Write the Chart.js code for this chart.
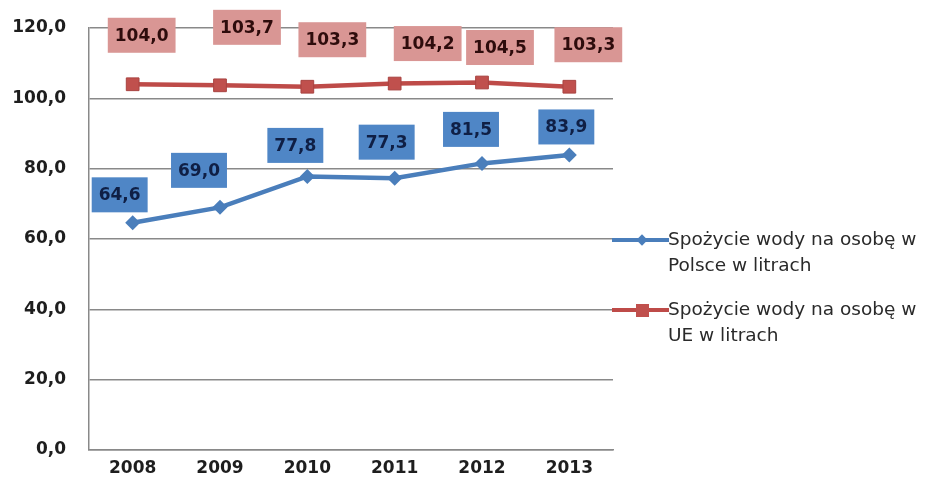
<!DOCTYPE html>
<html>
<head>
<meta charset="utf-8">
<script src="https://cdn.jsdelivr.net/npm/chart.js@4"></script>
<style>
    body { margin: 0; background: #fff; }
    #wrap { position: relative; width: 927px; height: 490px; }
    #legend { position: absolute; left: 612px; top: 226px; font-family: "DejaVu Sans", sans-serif; font-size: 18.5px; color: #2a2a2a; white-space: nowrap; }
    .item { position: relative; padding-left: 56px; line-height: 26px; margin-bottom: 18px; }
    .sample { position: absolute; left: 0; top: 12px; width: 57px; height: 4px; }
    .mark { position: absolute; }
</style>
</head>
<body>
<div id="wrap">
    <canvas id="waterChart" width="927" height="490"></canvas>
    <div id="legend"></div>
</div>
<script>
var years = ["2008", "2009", "2010", "2011", "2012", "2013"];
var polandValues = [64.6, 69.0, 77.8, 77.3, 81.5, 83.9];
var euValues = [104.0, 103.7, 103.3, 104.2, 104.5, 103.3];
var seriesNames = ["Spożycie wody na osobę w Polsce w litrach", "Spożycie wody na osobę w UE w litrach"];
var legendLines = [["Spożycie wody na osobę w", "Polsce w litrach"], ["Spożycie wody na osobę w", "UE w litrach"]];

// where the value boxes sit relative to their point (px)
var labelShift = [
    [[-13, -28], [-21, -37], [-12, -31], [-8, -36], [-11, -34], [-3, -28]],
    [[9, -49], [27, -58], [25, -47], [33, -40], [18, -35], [19, -42]]
];
var boxFill = ["#4f86c6", "#d99694"];
var boxText = ["#0f1f45", "#2e0c0c"];
var fontStack = "'DejaVu Sans', sans-serif";

function fmt(v) {
    return v.toFixed(1).replace(".", ",");
}

var valueBoxes = {
    id: "valueBoxes",
    afterDatasetsDraw: function(chart) {
        var ctx = chart.ctx;
        ctx.save();
        ctx.font = "bold 17px " + fontStack;
        ctx.textAlign = "center";
        ctx.textBaseline = "middle";
        chart.data.datasets.forEach(function(ds, di) {
            var meta = chart.getDatasetMeta(di);
            meta.data.forEach(function(pt, i) {
                var txt = fmt(ds.data[i]);
                var cx = pt.x + labelShift[di][i][0];
                var cy = pt.y + labelShift[di][i][1];
                var w = ctx.measureText(txt).width + 14;
                var h = 35;
                ctx.fillStyle = boxFill[di];
                ctx.fillRect(cx - w / 2, cy - h / 2, w, h);
                ctx.fillStyle = boxText[di];
                ctx.fillText(txt, cx, cy + 1);
            });
        });
        ctx.restore();
    }
};

var ctx = document.getElementById("waterChart").getContext("2d");
var chartInstance = new Chart(ctx, {
    type: "line",
    data: {
        labels: years,
        datasets: [
            {
                label: seriesNames[0],
                data: polandValues,
                borderColor: "#4a7ebb",
                backgroundColor: "#4a7ebb",
                borderWidth: 4.5,
                pointStyle: "rectRot",
                pointRadius: 7.5,
                pointBorderWidth: 0,
                tension: 0
            },
            {
                label: seriesNames[1],
                data: euValues,
                borderColor: "#be4b48",
                backgroundColor: "#c0504d",
                borderWidth: 4.5,
                pointStyle: "rect",
                pointRadius: 9,
                pointBorderWidth: 1,
                pointBorderColor: "#a84340",
                tension: 0
            }
        ]
    },
    options: {
        responsive: false,
        animation: false,
        layout: { padding: { top: 28, right: 314, left: 0, bottom: 0 } },
        plugins: {
            legend: { display: false },
            tooltip: { enabled: false }
        },
        scales: {
            x: {
                offset: true,
                grid: { display: false, drawTicks: false },
                border: { display: true, color: "#898989", width: 1.5 },
                ticks: {
                    color: "#1e1e1e",
                    padding: 8,
                    font: { family: fontStack, size: 17, weight: "bold" }
                },
                afterFit: function(scale) { scale.height = 40; }
            },
            y: {
                min: 0,
                max: 120,
                ticks: {
                    stepSize: 20,
                    color: "#1e1e1e",
                    padding: 23,
                    font: { family: fontStack, size: 17, weight: "bold" },
                    callback: function(v) { return fmt(v); }
                },
                grid: { color: "#898989", lineWidth: 1.4, drawTicks: false },
                border: { display: true, color: "#898989", width: 1.5 },
                afterFit: function(scale) {
                    scale.width = 89;
                    scale.paddingTop = 0;
                    scale.paddingBottom = 0;
                }
            }
        }
    },
    plugins: [valueBoxes]
});

// legend as html, built from the datasets
var legendBox = document.getElementById("legend");
chartInstance.data.datasets.forEach(function(ds, di) {
    var item = document.createElement("div");
    item.className = "item";
    var sample = document.createElement("div");
    sample.className = "sample";
    sample.style.background = ds.borderColor;
    var mark = document.createElement("div");
    mark.className = "mark";
    mark.style.background = ds.backgroundColor;
    if (ds.pointStyle === "rectRot") {
        mark.style.width = "8px"; mark.style.height = "8px";
        mark.style.top = "-2px"; mark.style.left = "26px";
        mark.style.transform = "rotate(45deg)";
    } else {
        mark.style.width = "13px"; mark.style.height = "13px";
        mark.style.top = "-4.5px"; mark.style.left = "24px";
    }
    sample.appendChild(mark);
    item.appendChild(sample);
    item.insertAdjacentHTML("beforeend", legendLines[di].join("<br>"));
    legendBox.appendChild(item);
});
</script>
</body>
</html>
